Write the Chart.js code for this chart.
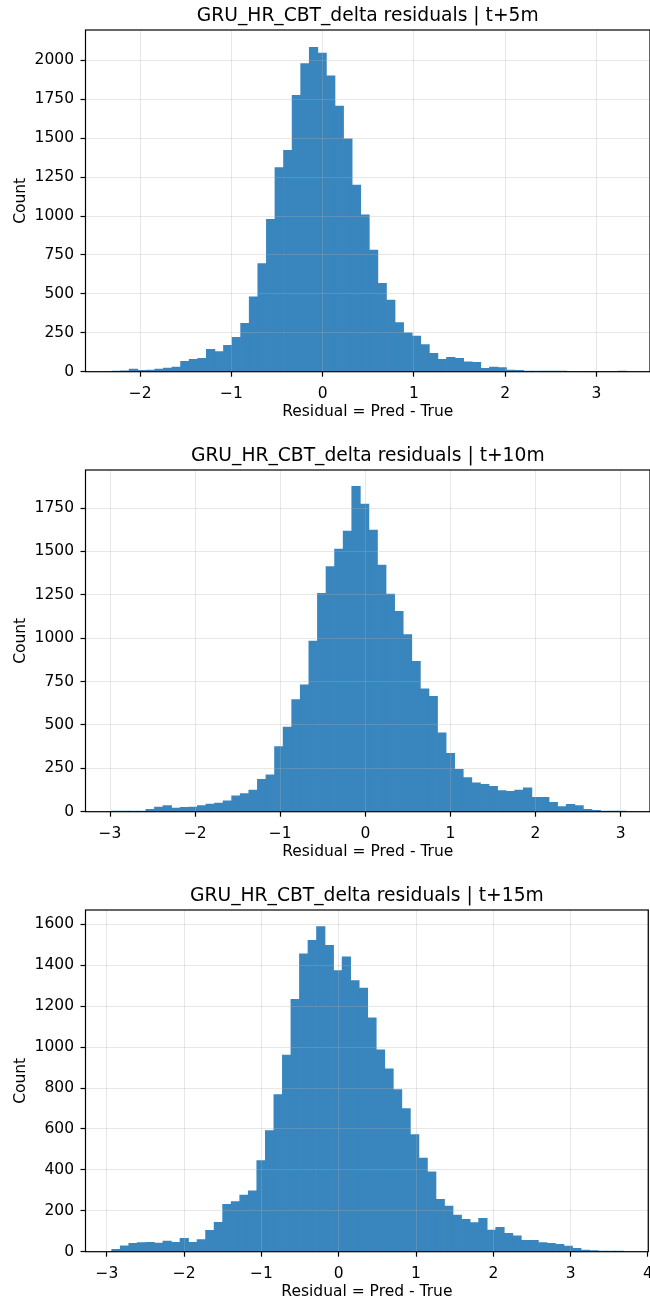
<!DOCTYPE html>
<html>
<head>
<meta charset="utf-8">
<script src="https://cdn.jsdelivr.net/npm/chart.js@4.4.1/dist/chart.umd.min.js"></script>
<style>
  html, body { margin: 0; padding: 0; background: #fff; overflow: hidden; }
  #wrap { position: relative; width: 650px; height: 1301px; overflow: hidden; }
  .panel { position: absolute; left: 0; width: 650px; height: 440px; }
</style>
</head>
<body>
<div id="wrap">
  <div class="panel" style="top:0px"><canvas id="hist5" width="650" height="440"></canvas></div>
  <div class="panel" style="top:440px"><canvas id="hist10" width="650" height="440"></canvas></div>
  <div class="panel" style="top:880px"><canvas id="hist15" width="650" height="440"></canvas></div>
</div>
<script>
// residual histograms, 60 bins each (start = left edge of first bin)
const t5BinStart = -2.309, t5BinWidth = 0.094;
const t5Counts = [
  2, 6, 17, 9, 11, 17, 24, 30, 66, 79,
  86, 143, 130, 169, 220, 310, 481, 695, 978, 1311,
  1422, 1775, 1979, 2083, 2047, 1900, 1707, 1496, 1199, 1007,
  781, 568, 460, 316, 250, 229, 175, 118, 79, 92,
  86, 64, 60, 21, 30, 26, 11, 9, 4, 4,
  2, 1, 1, 0, 0, 0, 0, 0, 0, 1
];

const t10BinStart = -2.982, t10BinWidth = 0.1008;
const t10Counts = [
  1, 2, 2, 3, 13, 27, 35, 21, 25, 27,
  35, 44, 50, 63, 92, 104, 125, 187, 212, 375,
  488, 646, 731, 983, 1258, 1413, 1513, 1617, 1875, 1773,
  1623, 1421, 1254, 1154, 1021, 867, 708, 665, 454, 337,
  244, 196, 167, 158, 146, 121, 117, 125, 137, 83,
  83, 54, 29, 42, 35, 13, 8, 4, 2, 1
];

const t15BinStart = -2.937, t15BinWidth = 0.1104;
const t15Counts = [
  11, 29, 41, 44, 46, 42, 52, 46, 65, 46,
  59, 104, 144, 232, 245, 277, 297, 445, 592, 768,
  961, 1233, 1456, 1522, 1589, 1497, 1374, 1441, 1325, 1288,
  1143, 986, 894, 792, 699, 572, 457, 390, 256, 223,
  179, 158, 142, 163, 106, 119, 90, 77, 55, 55,
  44, 41, 36, 28, 16, 8, 5, 2, 1, 1
];

const FONT = 'DejaVu Sans';

const fmtTick = v => (v < 0 ? '\u2212' + Math.abs(v) : String(v));

const frame = {
  id: 'frame',
  afterDraw(chart) {
    const {ctx, chartArea: a} = chart;
    ctx.save();
    ctx.strokeStyle = '#000';
    ctx.lineWidth = 1.2;
    ctx.strokeRect(a.left, a.top, a.right - a.left, a.bottom - a.top);
    ctx.restore();
  }
};

function histChart(id, horizon, binStart, binWidth, counts, ax) {
  const points = counts.map((c, i) => ({x: binStart + (i + 0.5) * binWidth, y: c}));
  const grid = {color: 'rgba(176,176,176,0.3)', lineWidth: 1, z: 1,
    tickColor: '#000', tickLength: 5, tickWidth: 1.2, offset: false};
  return new Chart(document.getElementById(id), {
    type: 'bar',
    data: {
      datasets: [{
        data: points,
        backgroundColor: 'rgb(56,134,189)',
        borderWidth: 0,
        barPercentage: 1,
        categoryPercentage: 1
      }]
    },
    options: {
      responsive: false,
      animation: false,
      events: [],
      devicePixelRatio: 1,
      layout: {padding: {left: 0, right: ax.padRight, top: 0, bottom: 0}},
      plugins: {
        legend: {display: false},
        tooltip: {enabled: false},
        title: {
          display: true,
          fullSize: false,
          text: 'GRU_HR_CBT_delta residuals | ' + horizon,
          color: '#000',
          font: {family: FONT, size: 18.7, weight: 'normal', lineHeight: 1.2},
          padding: {top: 4.6, bottom: 2.96}
        }
      },
      scales: {
        x: {
          type: 'linear',
          min: ax.xMin,
          max: ax.xMax,
          offset: false,
          grid: grid,
          border: {display: false},
          ticks: {
            stepSize: 1, includeBounds: false, autoSkip: false, maxRotation: 0,
            color: '#000', padding: 7.5, font: {family: FONT, size: 15.5},
            callback: v => fmtTick(v)
          },
          title: {
            display: true, text: 'Residual = Pred - True', color: '#000',
            font: {family: FONT, size: 15.5, lineHeight: 1.2},
            padding: {top: 0, bottom: 18.7}
          },
          afterFit: s => { s.height = 68.3; s.paddingLeft = 0; s.paddingRight = 0; }
        },
        y: {
          min: 0,
          max: ax.yMax,
          grid: grid,
          border: {display: false},
          ticks: {
            color: '#000', padding: 6.5, font: {family: FONT, size: 15.5},
            callback: v => String(v)
          },
          afterBuildTicks: s => {
            const ticks = [];
            for (let v = 0; v <= ax.yMax; v += ax.yStep) ticks.push({value: v});
            s.ticks = ticks;
          },
          title: {
            display: true, text: 'Count', color: '#000',
            font: {family: FONT, size: 15.5, lineHeight: 1.2},
            padding: {top: 11.7, bottom: 0}
          },
          afterFit: s => { s.width = 85.5; s.paddingTop = 0; s.paddingBottom = 0; }
        }
      }
    },
    plugins: [frame]
  });
}

histChart('hist5', 't+5m', t5BinStart, t5BinWidth, t5Counts,
  {xMin: -2.599, xMax: 3.587, yMax: 2195, yStep: 250, padRight: 0});
histChart('hist10', 't+10m', t10BinStart, t10BinWidth, t10Counts,
  {xMin: -3.288, xMax: 3.345, yMax: 1969, yStep: 250, padRight: 0});
histChart('hist15', 't+15m', t15BinStart, t15BinWidth, t15Counts,
  {xMin: -3.276, xMax: 4.005, yMax: 1670, yStep: 200, padRight: 1.7});
</script>
</body>
</html>
